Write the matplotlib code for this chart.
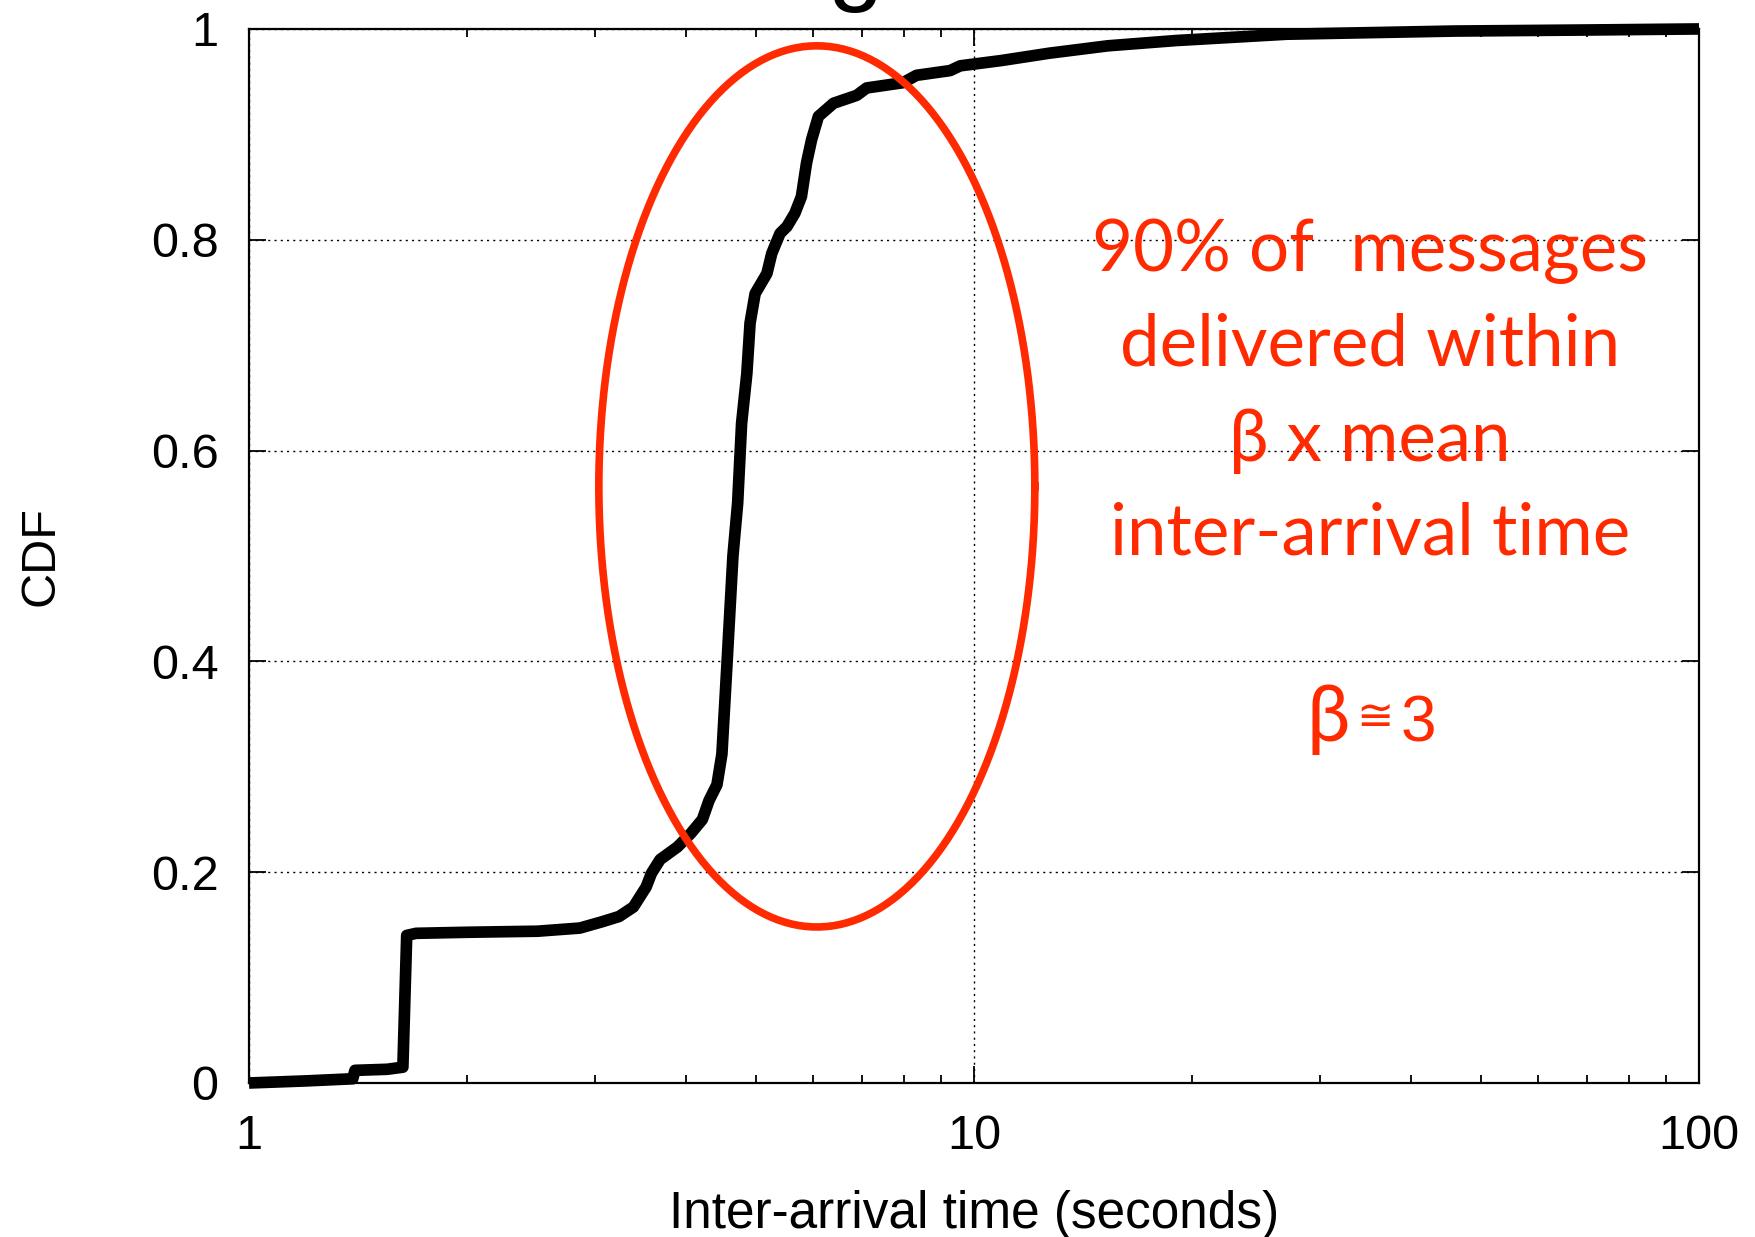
import numpy as np
import matplotlib
matplotlib.use('Agg')
import matplotlib.pyplot as plt
from matplotlib.ticker import LogLocator, NullFormatter

# ---- data ----
inter_arrival_s = [1.0, 1.2, 1.39, 1.40, 1.55, 1.63, 1.65, 1.70, 2.0, 2.5, 2.86,
                   3.07, 3.24, 3.39, 3.53, 3.59, 3.69, 3.90, 4.07, 4.22, 4.31,
                   4.42, 4.49, 4.56, 4.65, 4.72, 4.78, 4.86, 4.91, 4.99, 5.18,
                   5.26, 5.40, 5.52, 5.66, 5.78, 5.875, 5.97, 6.10, 6.40, 6.89,
                   7.11, 7.98, 8.33, 9.27, 9.57, 10.9, 12.7, 15.3, 19.0, 27.0,
                   46.0, 70.0, 100.0]
cdf = [0.0, 0.002, 0.004, 0.012, 0.013, 0.015, 0.140, 0.142, 0.143, 0.144, 0.147,
       0.153, 0.158, 0.167, 0.186, 0.199, 0.212, 0.224, 0.237, 0.250, 0.268,
       0.283, 0.312, 0.394, 0.500, 0.550, 0.626, 0.673, 0.721, 0.749, 0.768,
       0.787, 0.806, 0.8125, 0.825, 0.841, 0.873, 0.895, 0.917, 0.9295, 0.937,
       0.944, 0.949, 0.956, 0.9605, 0.965, 0.970, 0.977, 0.984, 0.989, 0.995,
       0.998, 0.999, 1.0]

x_ticks = [1, 10, 100]
x_tick_labels = ['1', '10', '100']
y_ticks = [0, 0.2, 0.4, 0.6, 0.8, 1]
y_tick_labels = ['0', '0.2', '0.4', '0.6', '0.8', '1']

x_label = 'Inter-arrival time (seconds)'
y_label = 'CDF'
annotation_lines = ['90% of  messages', 'delivered within', 'β x mean', 'inter-arrival time']
beta_parts = ['β', '≅', '3']

# highlight ellipse (center in seconds / CDF, half-extent in decades / CDF)
ellipse_center = (6.07, 0.566)
ellipse_half_decades = 0.3007
ellipse_half_height = 0.418

RED = '#FF2A00'

fig = plt.figure(figsize=(17.55, 12.37), dpi=100)
ax = fig.add_axes([0.1419, 0.1245, 0.8262, 0.8521])
ax.set_xscale('log')
ax.set_xlim(1, 100)
ax.set_ylim(0, 1)

ax.plot(inter_arrival_s, cdf, color='black', lw=8.4, solid_joinstyle='round',
        solid_capstyle='butt', clip_on=False, zorder=3)

t = np.linspace(0, 2 * np.pi, 400)
lx = np.log10(ellipse_center[0]) + ellipse_half_decades * np.cos(t)
ly = ellipse_center[1] + ellipse_half_height * np.sin(t)
ax.plot(10 ** lx, ly, color=RED, lw=5.5, zorder=4)

font = 'Liberation Sans'
ax.set_xticks(x_ticks)
ax.set_xticklabels(x_tick_labels, fontfamily=font)
ax.set_yticks(y_ticks)
ax.set_yticklabels(y_tick_labels, fontfamily=font)
ax.xaxis.set_minor_locator(LogLocator(base=10, subs=range(2, 10)))
ax.xaxis.set_minor_formatter(NullFormatter())
ax.tick_params(which='both', direction='in', top=True, right=True, labelsize=35,
               colors='black')
ax.tick_params(which='major', length=12, width=1.3)
ax.tick_params(which='minor', length=6, width=1.3)
ax.tick_params(axis='x', pad=22)
ax.tick_params(axis='y', pad=22)
for s in ax.spines.values():
    s.set_linewidth(1.6)

ax.grid(True, which='major', ls=(0, (1.5, 3)), lw=1.0, color='black')
ax.set_axisbelow(True)

# axis titles
fig.text(974 / 1755, 1 - 1228 / 1237, x_label, ha='center', va='baseline',
         fontsize=37, fontfamily=font)
ax.set_ylabel(y_label, fontsize=35, fontfamily=font, va='center')
ax.yaxis.set_label_coords(-0.1434, 0.5)

ann_font = ['Lato', 'Open Sans', 'DejaVu Sans']
baselines = [0.770, 0.681, 0.590, 0.501]
for line, yb in zip(annotation_lines, baselines):
    ax.text(0.773, yb, line, transform=ax.transAxes, ha='center', va='baseline',
            fontsize=51, color=RED, fontfamily=ann_font, zorder=5)

# "β≅3" built from three pieces around the ≅ sign
anchor = (0.7766, 0.324)
ax.annotate(beta_parts[0], xy=anchor, xycoords='axes fraction', xytext=(-18, 0),
            textcoords='offset points', ha='right', va='baseline', fontsize=56,
            color=RED, fontfamily=ann_font, zorder=5)
ax.annotate(beta_parts[1], xy=anchor, xycoords='axes fraction', xytext=(0, 8),
            textcoords='offset points', ha='center', va='baseline', fontsize=32,
            color=RED, fontfamily='DejaVu Sans', zorder=5)
ax.annotate(beta_parts[2], xy=anchor, xycoords='axes fraction', xytext=(18, 0),
            textcoords='offset points', ha='left', va='baseline', fontsize=46,
            color=RED, fontfamily=font, zorder=5)

# descender of the cut-off slide title
fig.text(856 / 1755, 1 + 8 / 1237, 'g', fontsize=72, fontfamily=font,
         ha='center', va='baseline', color='black')

fig.savefig('out.png', dpi=100)
